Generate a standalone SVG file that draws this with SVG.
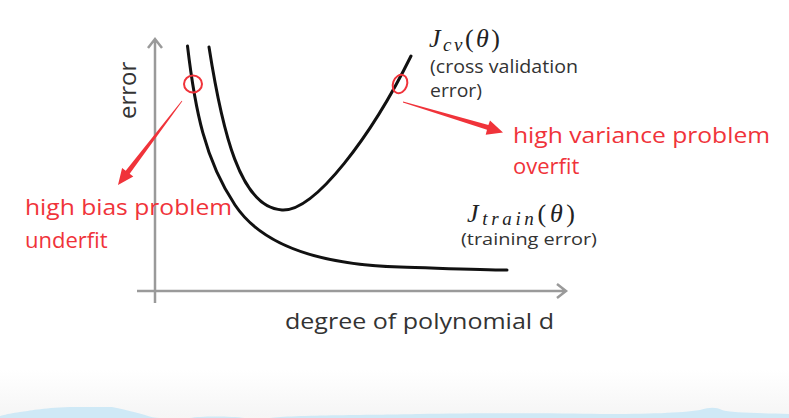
<svg xmlns="http://www.w3.org/2000/svg" width="789" height="418" viewBox="0 0 789 418">
<style>
.axis{stroke:#9a9a9a;stroke-width:2.5;fill:none}
.curve{stroke:#111;stroke-width:3;fill:none;stroke-linecap:round}
.mark{stroke:#f0333a;stroke-width:2;fill:none}
.arrow{fill:#f0333a}
.lbl{font-family:"Open Sans","Liberation Sans",sans-serif;fill:#333}
.math{font-family:"Liberation Serif",serif;fill:#222}
.red{font-family:"Open Sans","Noto Sans",sans-serif;fill:#f0333a;font-size:22px}
</style>
<defs>
<linearGradient id="bg" x1="0" y1="0" x2="0" y2="1">
<stop offset="0" stop-color="#ffffff"/>
<stop offset="1" stop-color="#f5f5f5"/>
</linearGradient>
</defs>
<rect width="789" height="418" fill="#fff"/>
<rect y="370" width="789" height="48" fill="url(#bg)"/>
<path d="M0,416 C8,414 12,413 20,412 C30,411 40,408 70,407 L112,407 C122,409 130,411 145,415 C150,417 155,418 160,418 L0,418 Z M190,418 C200,416 230,416 245,418 Z M270,418 C290,415 380,415 420,414 C470,413 560,413 600,414 C650,414 680,413 700,410 C710,407 716,407 722,410 C730,413 760,413 789,414 L789,418 Z" fill="#cfe9f6"/>
<g id="axes">
<path class="axis" d="M155,303 L155,39 M148,48 L155,39 L162,48"/>
<path class="axis" d="M137,291 L566,291 M557,284 L566,291 L557,298"/>
</g>
<g id="curves">
<path id="train-curve" class="curve" d="M187.5,46 C195,110 205,160 235,205 C265,250 330,265 400,267 C440,268.2 480,270 507,270"/>
<path id="cv-curve" class="curve" d="M209,47 C222,130 240,208 282,210 C315,212 372,135 411,56"/>
</g>
<g id="markers">
<ellipse class="mark" cx="193" cy="84" rx="9" ry="8.5"/>
<ellipse class="mark" cx="400" cy="84" rx="7" ry="9.5" transform="rotate(20 400 84)"/>
</g>
<g id="connectors">
<polygon class="arrow" points="182.3,101.2 129.7,173.8 133.3,176.5 118,185 122.1,168.1 125.7,170.8 181.7,100.8"/>
<polygon class="arrow" points="402.9,102.4 487,129.8 485.7,134.8 503,132.5 490,120.5 488.4,125 403.1,101.6"/>
</g>
<g id="y-label">
<text class="lbl" font-size="24" transform="translate(136,119) rotate(-90)">error</text>
</g>
<g id="x-label">
<text class="lbl" x="285" y="329" font-size="22" textLength="269" lengthAdjust="spacingAndGlyphs">degree of polynomial d</text>
</g>
<g id="cv-label">
<text class="math" x="429" y="47" font-size="26" textLength="71" lengthAdjust="spacing"><tspan font-style="italic">J</tspan><tspan font-style="italic" font-size="19" dy="4">cv</tspan><tspan dy="-4">(</tspan><tspan font-style="italic">θ</tspan><tspan>)</tspan></text>
<text class="lbl" x="430" y="73" font-size="18" textLength="148" lengthAdjust="spacingAndGlyphs">(cross validation</text>
<text class="lbl" x="430" y="97" font-size="18" textLength="52" lengthAdjust="spacingAndGlyphs">error)</text>
</g>
<g id="train-label">
<text class="math" x="467" y="222" font-size="26" textLength="108" lengthAdjust="spacing"><tspan font-style="italic">J</tspan><tspan font-style="italic" font-size="19" dy="3">train</tspan><tspan dy="-3">(</tspan><tspan font-style="italic">θ</tspan><tspan>)</tspan></text>
<text class="lbl" x="461" y="245" font-size="17" textLength="136" lengthAdjust="spacingAndGlyphs">(training error)</text>
</g>
<g id="variance-label">
<text class="red" x="513" y="143" textLength="257" lengthAdjust="spacingAndGlyphs">high variance problem</text>
<text class="red" x="513" y="174">overfit</text>
</g>
<g id="bias-label">
<text class="red" x="25" y="215" textLength="207" lengthAdjust="spacingAndGlyphs">high bias problem</text>
<text class="red" x="25" y="248">underfit</text>
</g>
</svg>
